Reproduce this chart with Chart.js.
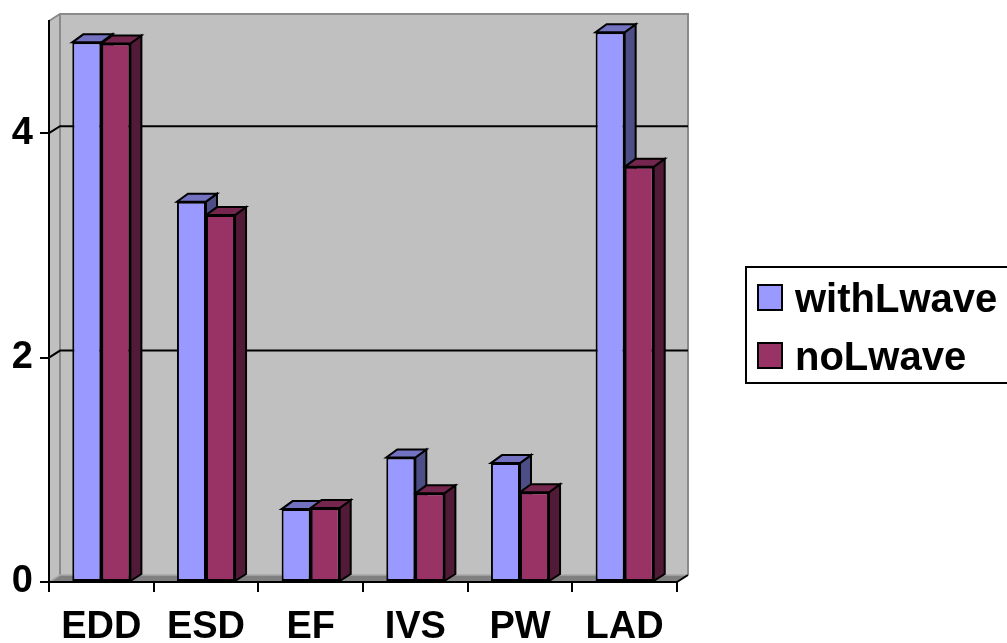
<!DOCTYPE html>
<html>
<head>
<meta charset="utf-8">
<script src="https://cdn.jsdelivr.net/npm/chart.js@4/dist/chart.umd.min.js"></script>
<style>
  html, body { margin: 0; padding: 0; background: #ffffff; }
  canvas { display: block; }
</style>
</head>
<body>
<canvas id="chart" width="1007" height="643"></canvas>
<script>
// Echo measurements per category, two groups
const categories = ['EDD', 'ESD', 'EF', 'IVS', 'PW', 'LAD'];
const seriesNames = ['withLwave', 'noLwave'];
const withLwave = [4.81, 3.39, 0.65, 1.11, 1.06, 4.90];
const noLwave = [4.80, 3.27, 0.66, 0.79, 0.80, 3.70];
const yTickValues = [0, 2, 4];
const yMin = 0;
const yMax = 5;

// Styling
const FONT = '"Liberation Sans", Arial, sans-serif';
const DX = 11;   // depth offset of the 3D box, x
const DY = -7;   // depth offset of the 3D box, y
const palette = [
  { front: '#9999FF', top: '#7272C0', side: '#4E4E86' },
  { front: '#993366', top: '#74264E', side: '#511A36' }
];

function poly(ctx, pts, fill, stroke, lw) {
  ctx.beginPath();
  ctx.moveTo(pts[0][0], pts[0][1]);
  for (let i = 1; i < pts.length; i++) ctx.lineTo(pts[i][0], pts[i][1]);
  ctx.closePath();
  if (fill) { ctx.fillStyle = fill; ctx.fill(); }
  if (stroke) { ctx.strokeStyle = stroke; ctx.lineWidth = lw; ctx.lineJoin = 'miter'; ctx.stroke(); }
}

// Back wall, side wall, floor and gridlines of the 3D box
const wallsPlugin = {
  id: 'walls',
  beforeDraw(chart) {
    const ctx = chart.ctx;
    const { left, right, top, bottom } = chart.chartArea;
    const ys = chart.scales.y;
    ctx.save();
    // back wall
    poly(ctx, [[left + DX, top + DY], [right + DX, top + DY], [right + DX, bottom + DY], [left + DX, bottom + DY]], '#C0C0C0', null, 0);
    // left wall
    poly(ctx, [[left, top], [left + DX, top + DY], [left + DX, bottom + DY], [left, bottom]], '#C0C0C0', null, 0);
    // floor
    poly(ctx, [[left, bottom], [right, bottom], [right + DX, bottom + DY], [left + DX, bottom + DY]], '#808080', null, 0);

    // wall edges
    ctx.strokeStyle = '#8A8A8A';
    ctx.lineWidth = 2;
    ctx.beginPath();
    ctx.moveTo(left, top);
    ctx.lineTo(left + DX, top + DY);
    ctx.lineTo(right + DX, top + DY);
    ctx.lineTo(right + DX, bottom + DY);
    ctx.moveTo(left + DX, top + DY);
    ctx.lineTo(left + DX, bottom + DY);
    ctx.stroke();
    ctx.strokeStyle = '#A8A8A8';
    ctx.lineWidth = 1.5;
    ctx.beginPath();
    ctx.moveTo(left, bottom);
    ctx.lineTo(left + DX, bottom + DY);
    ctx.lineTo(right + DX, bottom + DY);
    ctx.stroke();

    // gridlines on back wall, with the slanted part on the left wall
    ctx.strokeStyle = '#000000';
    ctx.lineWidth = 2;
    yTickValues.forEach(v => {
      if (v === yMin) return;
      const py = ys.getPixelForValue(v);
      ctx.beginPath();
      ctx.moveTo(left, py);
      ctx.lineTo(left + DX, py + DY);
      ctx.lineTo(right + DX, py + DY);
      ctx.stroke();
    });
    ctx.restore();
  },
  beforeDatasetsDraw(chart) {
    const ctx = chart.ctx;
    const { right, bottom } = chart.chartArea;
    ctx.save();
    // front-right floor edge
    ctx.strokeStyle = '#000000';
    ctx.lineWidth = 2;
    ctx.beginPath();
    ctx.moveTo(right, bottom);
    ctx.lineTo(right + DX, bottom + DY);
    ctx.stroke();

    // top and side faces of every bar
    chart.data.datasets.forEach((ds, di) => {
      const meta = chart.getDatasetMeta(di);
      const col = palette[di];
      meta.data.forEach(bar => {
        const p = bar.getProps(['x', 'y', 'base', 'width'], true);
        const l = p.x - p.width / 2;
        const r = p.x + p.width / 2;
        const t = p.y;
        const b = p.base;
        poly(ctx, [[r, t], [r + DX, t + DY - 1], [r + DX, b + DY], [r, b]], col.side, '#000000', 2);
        poly(ctx, [[l, t], [r, t], [r + DX, t + DY - 1], [l + DX, t + DY - 1]], col.top, '#000000', 2);
      });
    });
    ctx.restore();
  }
};

// Boxed legend on the right
const legendBoxPlugin = {
  id: 'legendBox',
  afterDraw(chart) {
    const ctx = chart.ctx;
    ctx.save();
    ctx.strokeStyle = '#000000';
    ctx.lineWidth = 2;
    ctx.strokeRect(746, 267, 320, 116);
    ctx.font = 'bold 40px ' + FONT;
    ctx.textAlign = 'left';
    ctx.textBaseline = 'alphabetic';
    const rows = [312, 370];
    chart.data.datasets.forEach((ds, i) => {
      const base = rows[i];
      ctx.fillStyle = palette[i].front;
      ctx.fillRect(758, base - 27, 24, 25);
      ctx.strokeStyle = '#000000';
      ctx.lineWidth = 2;
      ctx.strokeRect(758, base - 27, 24, 25);
      ctx.fillStyle = '#000000';
      ctx.fillText(ds.label, 795, base);
    });
    ctx.restore();
  }
};

new Chart(document.getElementById('chart'), {
  type: 'bar',
  data: {
    labels: categories,
    datasets: [
      {
        label: seriesNames[0],
        data: withLwave,
        backgroundColor: palette[0].front,
        borderColor: '#000000',
        borderWidth: 2,
        borderSkipped: false
      },
      {
        label: seriesNames[1],
        data: noLwave,
        backgroundColor: palette[1].front,
        borderColor: '#000000',
        borderWidth: 2,
        borderSkipped: false
      }
    ]
  },
  options: {
    responsive: false,
    animation: false,
    events: [],
    barPercentage: 1.0,
    categoryPercentage: 0.555,
    layout: { padding: { left: 0, top: 21, right: 330, bottom: 0 } },
    plugins: {
      legend: { display: false },
      tooltip: { enabled: false },
      title: { display: false }
    },
    scales: {
      x: {
        offset: true,
        grid: {
          offset: true,
          drawOnChartArea: false,
          drawTicks: true,
          tickLength: 10,
          color: '#000000',
          lineWidth: 2
        },
        border: { display: true, color: '#000000', width: 2 },
        ticks: {
          color: '#000000',
          padding: 13,
          maxRotation: 0,
          autoSkip: false,
          font: { family: FONT, size: 38, weight: 'bold', lineHeight: 1.2 }
        },
        afterFit(scale) {
          scale.height = 61;
          scale.paddingLeft = 0;
          scale.paddingRight = 0;
        }
      },
      y: {
        min: yMin,
        max: yMax,
        grid: {
          drawOnChartArea: false,
          drawTicks: true,
          tickLength: 9,
          color: '#000000',
          lineWidth: 2
        },
        border: { display: true, color: '#000000', width: 2 },
        ticks: {
          color: '#000000',
          padding: 7,
          font: { family: FONT, size: 38, weight: 'bold' }
        },
        afterBuildTicks(scale) {
          scale.ticks = yTickValues.map(v => ({ value: v }));
        },
        afterFit(scale) {
          scale.width = 49;
          scale.paddingTop = 0;
          scale.paddingBottom = 0;
        }
      }
    }
  },
  plugins: [wallsPlugin, legendBoxPlugin]
});
</script>
</body>
</html>
